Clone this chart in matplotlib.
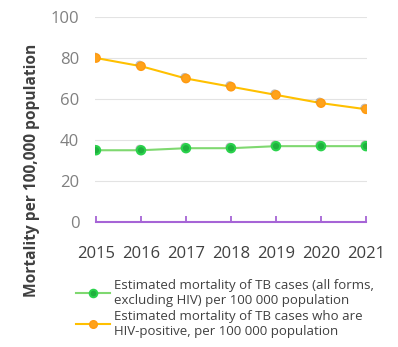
import matplotlib
matplotlib.use("Agg")
import matplotlib.pyplot as plt
import matplotlib.patheffects as pe
from matplotlib.lines import Line2D

plt.rcParams['font.family'] = ['Open Sans', 'DejaVu Sans']

years = [2015, 2016, 2017, 2018, 2019, 2020, 2021]
mortality_excl_hiv = [35, 35, 36, 36, 37, 37, 37]
mortality_hiv_pos = [80, 76, 70, 66, 62, 58, 55]
yticks = [0, 20, 40, 60, 80, 100]

label_excl = "Estimated mortality of TB cases (all forms,\nexcluding HIV) per 100 000 population"
label_hiv = "Estimated mortality of TB cases who are\nHIV-positive, per 100 000 population"

green_line = "#7fd870"
green_fill = "#1fb03e"
green_edge = "#2ad24c"
orange_line = "#ffc000"
orange_fill = "#ffa21a"
orange_edge = "#ff9a10"
purple = "#a664d6"

fig = plt.figure(figsize=(3.98, 3.47), dpi=100)
x0 = (96 - 1.35) / 398
x1 = (366 + 1.35) / 398
y0 = 1 - 222 / 347
y1 = 1 - 17 / 347
ax = fig.add_axes([x0, y0, x1 - x0, y1 - y0])

shadow = [pe.SimplePatchShadow(offset=(-1.0, 1.0), shadow_rgbFace="#707070", alpha=0.45), pe.Normal()]

# connecting lines
ax.plot(years, mortality_hiv_pos, color=orange_line, lw=1.5, zorder=2)
ax.plot(years, mortality_excl_hiv, color=green_line, lw=1.5, zorder=2)
# markers with a soft shadow
ax.plot(years, mortality_hiv_pos, ls="none", marker="o", ms=6,
        mfc=orange_fill, mec=orange_edge, mew=1.0, zorder=3, path_effects=shadow)
ax.plot(years, mortality_excl_hiv, ls="none", marker="o", ms=6,
        mfc=green_fill, mec=green_edge, mew=1.5, zorder=3, path_effects=shadow)

ax.set_xlim(2015 - 0.03, 2021 + 0.03)
ax.set_ylim(0, 100)
ax.set_yticks(yticks)
ax.set_xticks(years)
ax.set_xticklabels([str(y) for y in years])
ax.grid(axis="y", color="#e3e3e3", lw=0.8)
ax.set_axisbelow(True)

for s in ["top", "right", "left"]:
    ax.spines[s].set_visible(False)
ax.spines["bottom"].set_color(purple)
ax.spines["bottom"].set_linewidth(1.5)
ax.spines["bottom"].set_bounds(2015, 2021)

ax.tick_params(axis="x", direction="in", length=4, width=1.3, color=purple,
               pad=17, labelsize=12, labelcolor="#404040")
ax.tick_params(axis="y", length=0, pad=11, labelsize=12, labelcolor="#808080")

fig.text(32 / 398, 1 - 170 / 347, "Mortality per 100,000 population", rotation=90,
         ha="center", va="center", fontsize=11.2, fontweight="bold", color="#404040")

handles = [
    Line2D([], [], color=green_line, lw=1.5, marker="o", ms=5.5, mfc=green_fill, mec=green_edge, mew=1.4),
    Line2D([], [], color=orange_line, lw=1.5, marker="o", ms=5.5, mfc=orange_fill, mec=orange_edge, mew=1.0),
]
fig.legend(handles, [label_excl, label_hiv], loc="upper left",
           bbox_to_anchor=(76 / 398, 1 - 279 / 347), frameon=False,
           fontsize=9.5, labelcolor="#404040", handlelength=2.55, handletextpad=0.3,
           borderpad=0, borderaxespad=0, labelspacing=0.2)

fig.savefig("out.png", dpi=100)
